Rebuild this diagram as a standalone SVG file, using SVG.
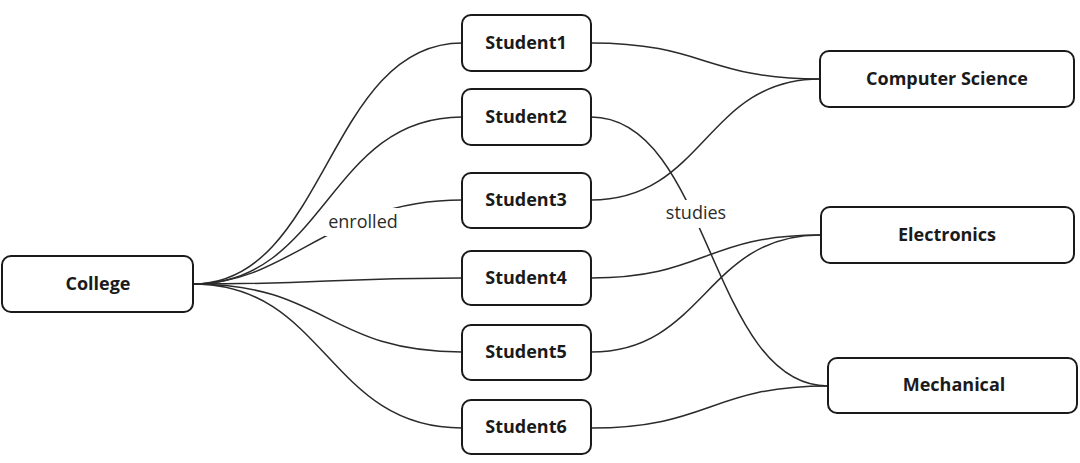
<svg xmlns="http://www.w3.org/2000/svg" width="1080" height="463" viewBox="0 0 1080 463">
<style>
.node rect{fill:#fff;stroke:#1a1a1a;stroke-width:2}
.node text{font-family:"Open Sans","Liberation Sans",sans-serif;font-weight:700;font-size:18px;fill:#1a1a1a;text-anchor:middle}
.edges path{fill:none;stroke:#2b2b2b;stroke-width:1.5}
.lbl rect{fill:#fff;stroke:none}
.lbl text{font-family:"Open Sans","Liberation Sans",sans-serif;font-size:18px;fill:#2b2b2b;text-anchor:middle}
</style>
<rect width="1080" height="463" fill="#fff"/>
<g class="edges" id="connectors">
<path d="M193,284 C327,284 327,43 462,43"/>
<path d="M193,284 C327,284 327,117 462,117"/>
<path d="M193,284 C290,284 330,200 462,200"/>
<path d="M193,284 C327,284 327,278 462,278"/>
<path d="M193,284 C327,284 327,352 462,352"/>
<path d="M193,284 C327,284 327,428 462,428"/>
<path d="M591,43 C705,43 705,79 820,79"/>
<path d="M591,200 C705,200 705,79 820,79"/>
<path d="M591,117 C710,117 710,386 828,386"/>
<path d="M591,278 C705,278 705,235 820,235"/>
<path d="M591,352 C705,352 705,235 820,235"/>
<path d="M591,428 C710,428 710,386 828,386"/>
<g class="lbl">
<rect x="325" y="208" width="76" height="28"/>
<text x="363" y="228">enrolled</text>
<rect x="661" y="200" width="70" height="28"/>
<text x="696" y="219">studies</text>
</g>
</g>
<g class="node" id="college"><rect x="2" y="256" width="191" height="56" rx="9"/><text x="98" y="290">College</text></g>
<g class="node" id="student1"><rect x="462" y="15" width="129" height="56" rx="9"/><text x="526" y="49">Student1</text></g>
<g class="node" id="student2"><rect x="462" y="89" width="129" height="56" rx="9"/><text x="526" y="123">Student2</text></g>
<g class="node" id="student3"><rect x="462" y="173" width="129" height="55" rx="9"/><text x="526" y="206">Student3</text></g>
<g class="node" id="student4"><rect x="462" y="251" width="129" height="54" rx="9"/><text x="526" y="284">Student4</text></g>
<g class="node" id="student5"><rect x="462" y="325" width="129" height="55" rx="9"/><text x="526" y="358">Student5</text></g>
<g class="node" id="student6"><rect x="462" y="400" width="129" height="54" rx="9"/><text x="526" y="433">Student6</text></g>
<g class="node" id="cs"><rect x="820" y="51" width="254" height="56" rx="9"/><text x="947" y="85">Computer Science</text></g>
<g class="node" id="electronics"><rect x="821" y="207" width="253" height="56" rx="9"/><text x="947" y="241">Electronics</text></g>
<g class="node" id="mechanical"><rect x="828" y="358" width="249" height="55" rx="9"/><text x="954" y="391">Mechanical</text></g>
</svg>
